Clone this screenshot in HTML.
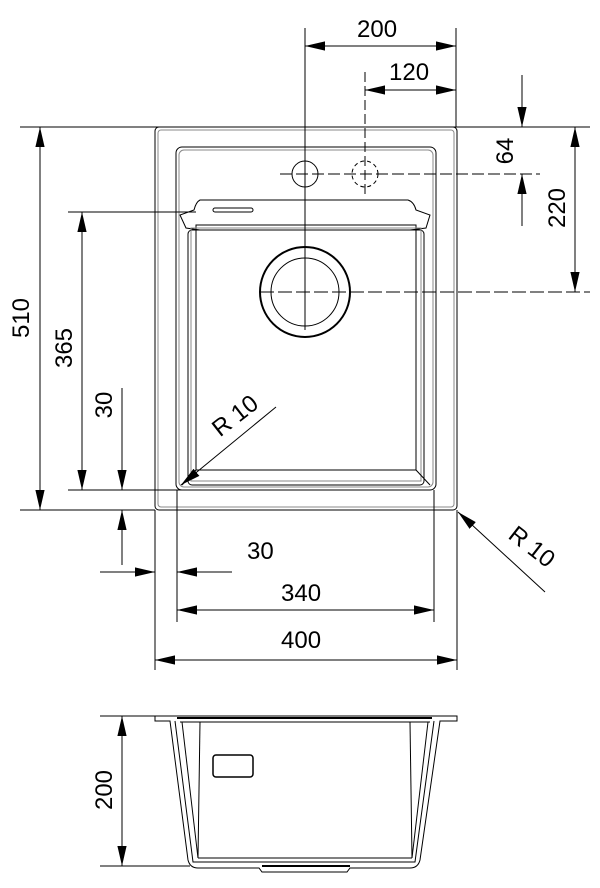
<!DOCTYPE html>
<html><head><style>body{margin:0;background:#fff}svg{display:block}text{font-family:"Liberation Sans",sans-serif;font-size:24px;fill:#000}</style></head><body>
<svg width="600" height="888" viewBox="0 0 600 888" xmlns="http://www.w3.org/2000/svg">
<defs>
<marker id="a" viewBox="0 0 10 10" refX="10" refY="5" markerWidth="20" markerHeight="20" markerUnits="userSpaceOnUse" orient="auto-start-reverse"><path d="M0,2.7L10,5L0,7.3z" fill="#000"/></marker>
</defs>
<g fill="none" stroke="#000" stroke-width="1">
<rect x="155" y="127" width="302" height="383" rx="4"/>
<rect x="158" y="130" width="296" height="377" rx="3" stroke="#888"/>
<rect x="176" y="147" width="260" height="343" rx="6"/>
<rect x="179" y="150" width="254" height="337" rx="5" stroke="#888"/>
<path d="M200,200 L408,200 Q414,202 416,210 L430,215 L426,228 L410,230 L200,230 L186,228 L180,215 L194,210 Q196,202 200,200Z"/>
<rect x="188" y="230" width="236" height="255" rx="4"/>
<rect x="196" y="225" width="220" height="245"/>
<rect x="191" y="228" width="230" height="253" stroke="#888"/>
<line x1="182" y1="485" x2="196" y2="470"/><line x1="430" y1="485" x2="416" y2="470"/>
<rect x="213" y="208" width="40" height="4" rx="2"/>
<circle cx="305" cy="174" r="13"/>
<circle cx="365" cy="174" r="13" stroke-dasharray="4,3"/>
<circle cx="305" cy="292" r="45" stroke-width="2"/>
<circle cx="305" cy="292" r="34"/>
<line x1="305" y1="28" x2="305" y2="330"/>
<line x1="365" y1="72" x2="365" y2="198" stroke-dasharray="10,4"/>
<line x1="280" y1="174" x2="540" y2="174" stroke-dasharray="12,4"/>
<line x1="260" y1="292" x2="590" y2="292" stroke-dasharray="14,4"/>
<line x1="456" y1="28" x2="456" y2="127"/>
<line x1="20" y1="127" x2="590" y2="127"/>
<line x1="68" y1="212" x2="196" y2="212"/>
<line x1="68" y1="490" x2="190" y2="490"/>
<line x1="20" y1="510" x2="155" y2="510"/>
<line x1="155" y1="510" x2="155" y2="670"/>
<line x1="457" y1="510" x2="457" y2="670"/>
<line x1="177" y1="490" x2="177" y2="622"/>
<line x1="434" y1="490" x2="434" y2="622"/>
<line x1="305" y1="46" x2="456" y2="46" marker-start="url(#a)" marker-end="url(#a)"/>
<line x1="365" y1="90" x2="456" y2="90" marker-start="url(#a)" marker-end="url(#a)"/>
<line x1="522" y1="75" x2="522" y2="127" marker-end="url(#a)"/>
<line x1="522" y1="226" x2="522" y2="174" marker-end="url(#a)"/>
<line x1="575" y1="127" x2="575" y2="292" marker-start="url(#a)" marker-end="url(#a)"/>
<line x1="40" y1="127" x2="40" y2="510" marker-start="url(#a)" marker-end="url(#a)"/>
<line x1="82" y1="212" x2="82" y2="490" marker-start="url(#a)" marker-end="url(#a)"/>
<line x1="122" y1="388" x2="122" y2="490" marker-end="url(#a)"/>
<line x1="122" y1="565" x2="122" y2="510" marker-end="url(#a)"/>
<line x1="100" y1="572" x2="155" y2="572" marker-end="url(#a)"/>
<line x1="232" y1="572" x2="177" y2="572" marker-end="url(#a)"/>
<line x1="177" y1="610" x2="434" y2="610" marker-start="url(#a)" marker-end="url(#a)"/>
<line x1="155" y1="660" x2="457" y2="660" marker-start="url(#a)" marker-end="url(#a)"/>
<line x1="276" y1="407" x2="181" y2="485" marker-end="url(#a)"/>
<line x1="545" y1="592" x2="458" y2="512" marker-end="url(#a)"/>
<path d="M155,716 L457,716 L457,721 L440,721 L420,860 Q418,868 410,868 L350,868 L347,872 L262,872 L259,868 L198,868 Q190,868 188,860 L170,721 L155,721Z"/>
<path d="M175,721 L193,862 L415,862 L434,721" />
<line x1="177" y1="718" x2="432" y2="718" stroke-width="2"/>
<line x1="180" y1="722" x2="430" y2="722"/>
<line x1="182" y1="722" x2="198" y2="858"/><line x1="200" y1="722" x2="198" y2="858"/>
<line x1="428" y1="722" x2="412" y2="858"/><line x1="410" y1="722" x2="412" y2="858"/>
<line x1="198" y1="858" x2="412" y2="858"/>
<rect x="213" y="755" width="40" height="22" rx="3" stroke-width="1.5"/>
<line x1="262" y1="866" x2="350" y2="866" stroke-width="2"/>
<line x1="100" y1="716" x2="155" y2="716"/>
<line x1="100" y1="866" x2="190" y2="866"/>
<line x1="122" y1="716" x2="122" y2="866" marker-start="url(#a)" marker-end="url(#a)"/>
</g>
<text x="357" y="37">200</text>
<text x="389" y="80">120</text>
<text x="247" y="559">30</text>
<text x="281" y="601">340</text>
<text x="281" y="648">400</text>
<text transform="translate(513,151) rotate(-90)" text-anchor="middle">64</text>
<text transform="translate(565,208) rotate(-90)" text-anchor="middle">220</text>
<text transform="translate(29,318) rotate(-90)" text-anchor="middle">510</text>
<text transform="translate(72,348) rotate(-90)" text-anchor="middle">365</text>
<text transform="translate(112,405) rotate(-90)" text-anchor="middle">30</text>
<text transform="translate(112,790) rotate(-90)" text-anchor="middle">200</text>
<text transform="translate(240,422) rotate(-38)" text-anchor="middle">R  10</text>
<text transform="translate(527,553) rotate(38)" text-anchor="middle">R  10</text>
</svg>
</body></html>
